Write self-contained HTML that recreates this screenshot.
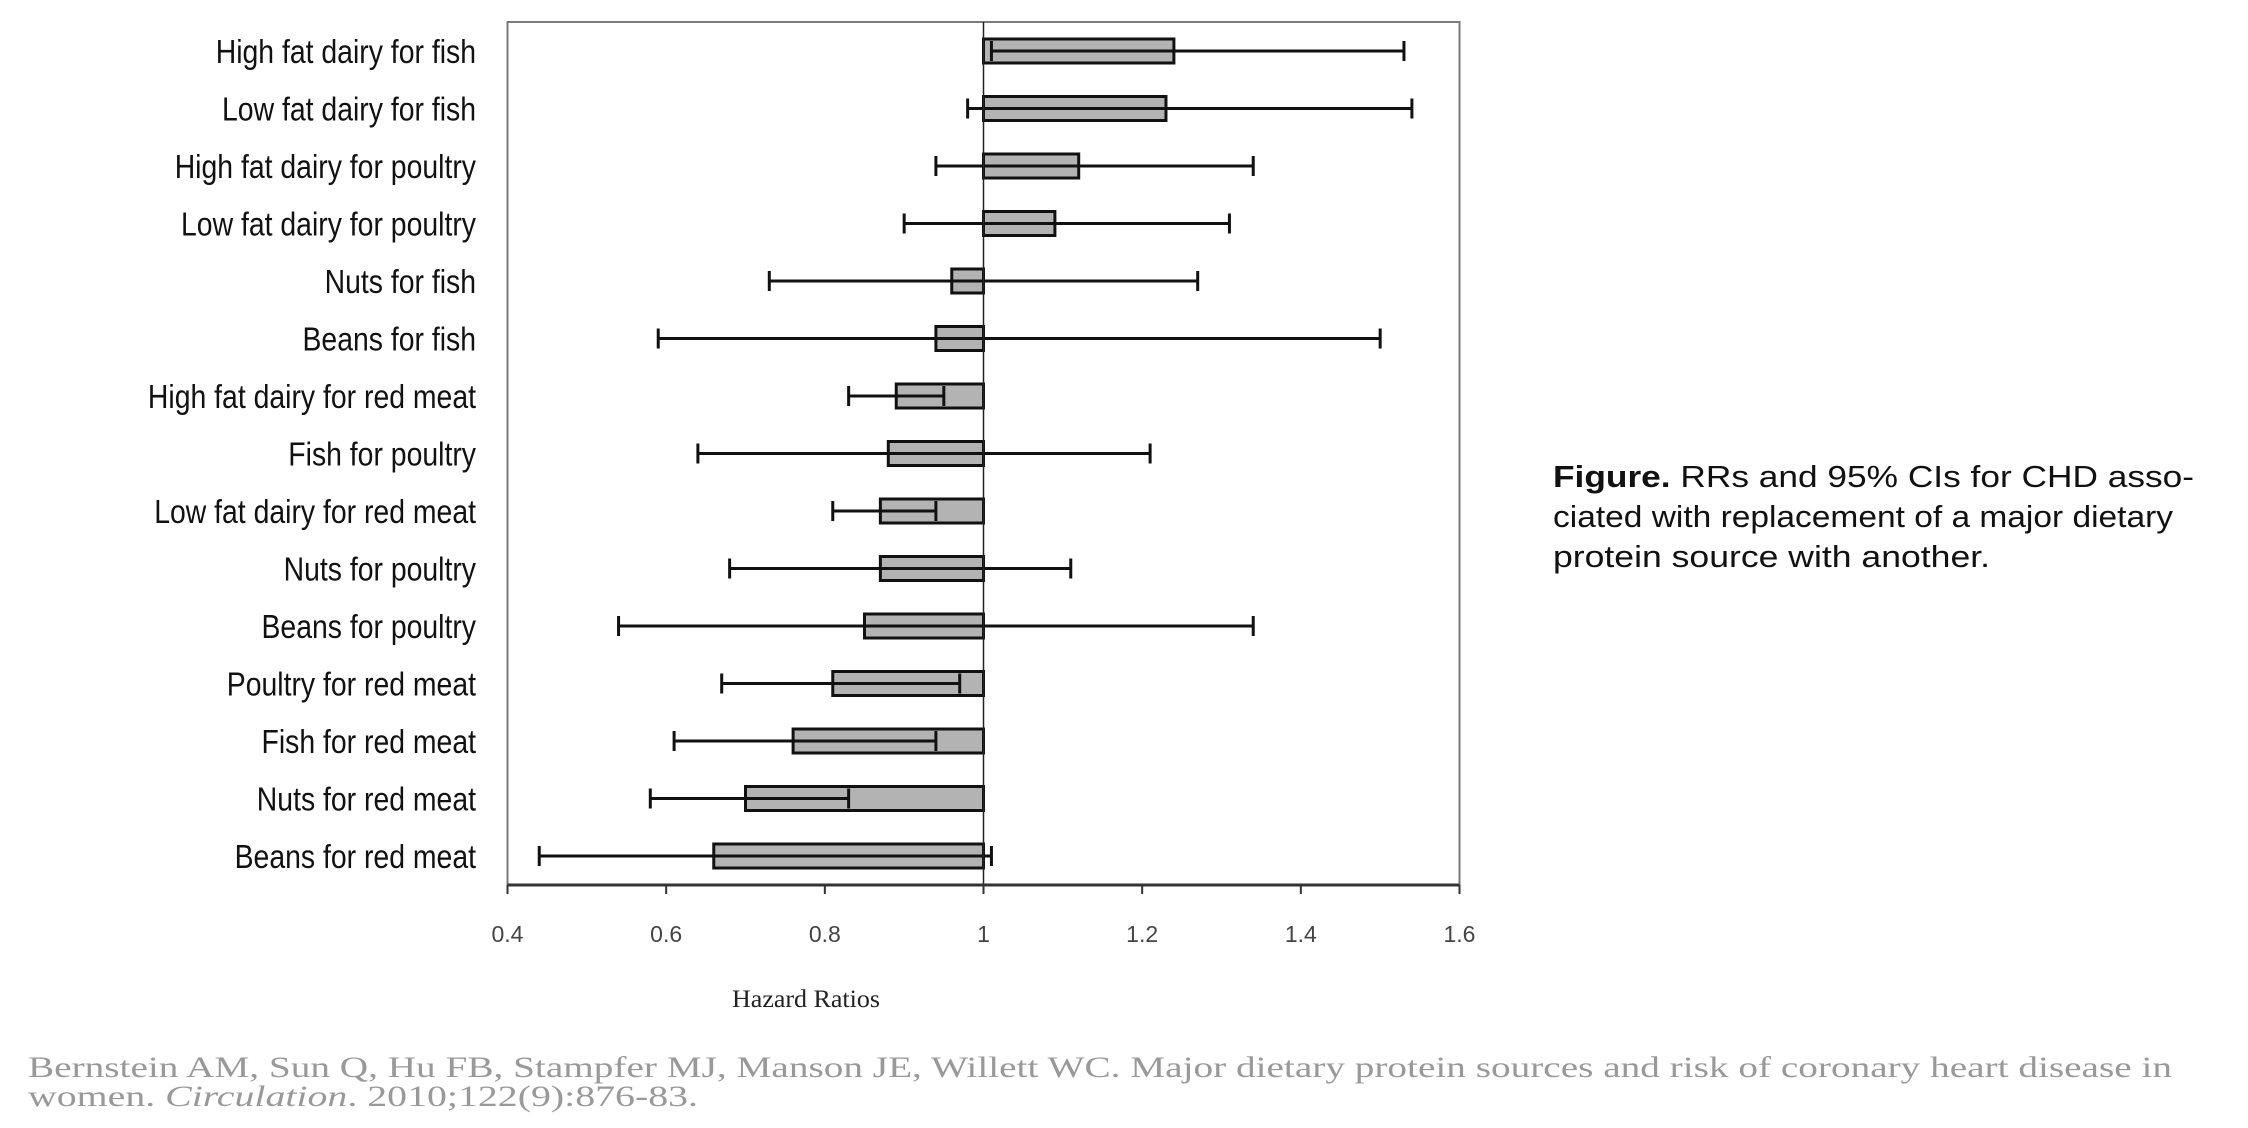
<!DOCTYPE html>
<html><head><meta charset="utf-8"><style>
html,body{margin:0;padding:0;background:#fff;width:2248px;height:1128px;overflow:hidden}
svg{display:block}
</style></head><body>
<svg id="chart" width="2248" height="1128" viewBox="0 0 2248 1128" xmlns="http://www.w3.org/2000/svg">
<rect x="507.5" y="22" width="952" height="863" fill="#fff" stroke="#7a7a7a" stroke-width="2"/>
<g id="bars"></g>
<g id="labels"></g>
<g id="xaxis"></g>
<text x="806" y="1007" text-anchor="middle" font-family="Liberation Serif, serif" font-size="25" fill="#222" textLength="148" lengthAdjust="spacingAndGlyphs">Hazard Ratios</text>
<g font-family="Liberation Sans, sans-serif" font-size="31" fill="#111">
<text x="1553" y="487" textLength="641" lengthAdjust="spacingAndGlyphs"><tspan font-weight="bold">Figure.</tspan> RRs and 95% CIs for CHD asso-</text>
<text x="1553" y="527" textLength="620" lengthAdjust="spacingAndGlyphs">ciated with replacement of a major dietary</text>
<text x="1553" y="567" textLength="437" lengthAdjust="spacingAndGlyphs">protein source with another.</text>
</g>
<g font-family="Liberation Serif, serif" font-size="30" fill="#999">
<text x="28" y="1077" textLength="2144" lengthAdjust="spacingAndGlyphs">Bernstein AM, Sun Q, Hu FB, Stampfer MJ, Manson JE, Willett WC. Major dietary protein sources and risk of coronary heart disease in</text>
<text x="28" y="1106" textLength="670" lengthAdjust="spacingAndGlyphs">women. <tspan font-style="italic">Circulation</tspan>. 2010;122(9):876-83.</text>
</g>
</svg>
<script>
const categories = ["High fat dairy for fish","Low fat dairy for fish","High fat dairy for poultry","Low fat dairy for poultry","Nuts for fish","Beans for fish","High fat dairy for red meat","Fish for poultry","Low fat dairy for red meat","Nuts for poultry","Beans for poultry","Poultry for red meat","Fish for red meat","Nuts for red meat","Beans for red meat"];
const rr = [1.24,1.23,1.12,1.09,0.96,0.94,0.89,0.88,0.87,0.87,0.85,0.81,0.76,0.70,0.66];
const ciLow = [1.01,0.98,0.94,0.90,0.73,0.59,0.83,0.64,0.81,0.68,0.54,0.67,0.61,0.58,0.44];
const ciHigh = [1.53,1.54,1.34,1.31,1.27,1.50,0.95,1.21,0.94,1.11,1.34,0.97,0.94,0.83,1.01];
const xTicks = [0.4,0.6,0.8,1,1.2,1.4,1.6];
const xTickLabels = ["0.4","0.6","0.8","1","1.2","1.4","1.6"];
const NS="http://www.w3.org/2000/svg";
const X0=507.5,X1=1459.5,XMIN=0.4,XMAX=1.6;
const xs=v=>X0+(v-XMIN)/(XMAX-XMIN)*(X1-X0);
const ys=i=>51+i*57.5;
function mk(tag,attrs,parent){const e=document.createElementNS(NS,tag);for(const k in attrs)e.setAttribute(k,attrs[k]);parent.appendChild(e);return e;}
const bars=document.getElementById('bars'),labels=document.getElementById('labels'),ax=document.getElementById('xaxis');
categories.forEach((c,i)=>{
  const y=ys(i),a=xs(1),b=xs(rr[i]);
  const r=mk('rect',{x:Math.min(a,b),y:y-12,width:Math.abs(b-a),height:24,fill:'#b3b3b3',stroke:'#111','stroke-width':3},bars);
  
  
  const l=mk('line',{x1:xs(ciLow[i]),x2:xs(ciHigh[i]),y1:y,y2:y,stroke:'#111','stroke-width':3},bars);
  
  
  [ciLow[i],ciHigh[i]].forEach(v=>{
    const t=mk('line',{x1:xs(v),x2:xs(v),y1:y-10,y2:y+10,stroke:'#111','stroke-width':3},bars);
    
    
  });
  const tx=mk('text',{x:476,y:y+12,'text-anchor':'end','font-family':'Liberation Sans, sans-serif','font-size':33,fill:'#111'},labels);
  tx.textContent=c;
  
  
  const w=tx.getComputedTextLength();
  tx.setAttribute('textLength',(w*0.86).toFixed(1));
  tx.setAttribute('lengthAdjust','spacingAndGlyphs');
});
const ref=mk('line',{x1:xs(1),x2:xs(1),y1:22,y2:885,stroke:'#222','stroke-width':1.5},bars);


const axl=mk('line',{x1:X0,x2:X1,y1:885,y2:885,stroke:'#333','stroke-width':3},ax);


xTicks.forEach((v,i)=>{
  const t=mk('line',{x1:xs(v),x2:xs(v),y1:885,y2:894,stroke:'#333','stroke-width':2},ax);
  
  
  const tl=mk('text',{x:xs(v),y:942,'text-anchor':'middle','font-family':'Liberation Sans, sans-serif','font-size':23,fill:'#444'},ax);
  tl.textContent=xTickLabels[i];
  
  
});
</script>
</body></html>
